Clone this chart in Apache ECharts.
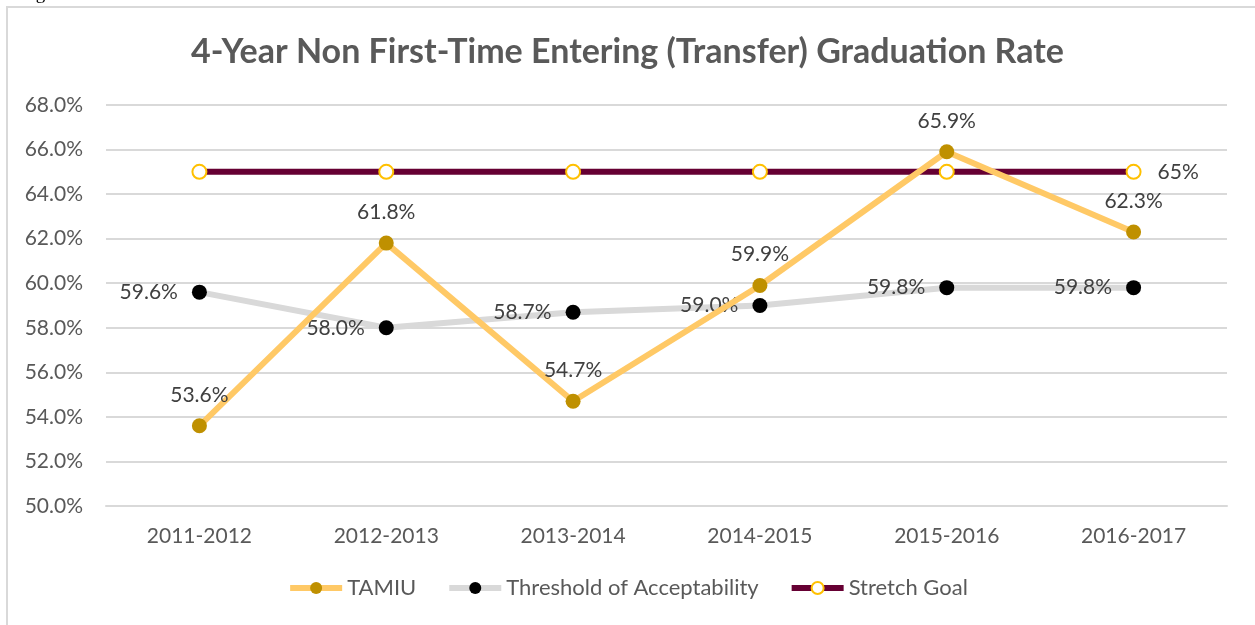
<!DOCTYPE html>
<html>
<head>
<meta charset="utf-8">
<script src="https://cdn.jsdelivr.net/npm/echarts@6/dist/echarts.min.js"></script>
<style>
  html, body { margin: 0; padding: 0; background: #fff; }
  #chart { width: 1255px; height: 625px; }
</style>
</head>
<body>
<div id="chart"></div>
<script>
var years = ['2011-2012', '2012-2013', '2013-2014', '2014-2015', '2015-2016', '2016-2017'];
var tamiu = [53.6, 61.8, 54.7, 59.9, 65.9, 62.3];
var threshold = [59.6, 58.0, 58.7, 59.0, 59.8, 59.8];
var stretchGoal = [65, 65, 65, 65, 65, 65];

var font = 'Lato';
var chart = echarts.init(document.getElementById('chart'));

var option = {
  backgroundColor: '#fff',
  animation: false,
  textStyle: { fontFamily: font },
  graphic: [
    { // frame of the chart area
      type: 'rect',
      shape: { x: 7, y: 7, width: 1262, height: 700 },
      style: { fill: 'none', stroke: '#d9d9d9', lineWidth: 2 },
      silent: true
    },
    { // caption cut off above the frame
      type: 'text',
      left: 20, top: -15,
      style: { text: 'Figure', font: '19px "Liberation Serif"', fill: '#000' }
    }
  ],
  title: {
    text: '4-Year Non First-Time Entering (Transfer) Graduation Rate',
    left: 'center',
    top: 30,
    textStyle: { color: '#595959', fontSize: 34, fontWeight: 'bold', fontFamily: font }
  },
  legend: {
    bottom: 21,
    left: 'center',
    itemWidth: 52,
    itemHeight: 15,
    itemGap: 30,
    lineStyle: { width: 6 },
    textStyle: { color: '#595959', fontSize: 22, fontFamily: font },
    data: ['TAMIU', 'Threshold of Acceptability', 'Stretch Goal']
  },
  grid: { left: 106, right: 28, top: 105, bottom: 119 },
  xAxis: {
    type: 'category',
    data: years,
    axisLine: { lineStyle: { color: '#d9d9d9', width: 2 } },
    axisTick: { show: false },
    axisLabel: { color: '#595959', fontSize: 21, margin: 20, fontFamily: font }
  },
  yAxis: {
    type: 'value',
    min: 50,
    max: 68,
    interval: 2,
    axisLine: { show: false },
    axisTick: { show: false },
    axisLabel: {
      color: '#595959', fontSize: 21, margin: 23, fontFamily: font,
      formatter: function (v) { return v.toFixed(1) + '%'; }
    },
    splitLine: { lineStyle: { color: '#d9d9d9', width: 2 } }
  },
  series: [
    {
      name: 'Stretch Goal',
      type: 'line',
      data: stretchGoal,
      z: 2,
      symbol: 'circle',
      symbolSize: 14,
      lineStyle: { color: '#660033', width: 6 },
      itemStyle: { color: '#fff', borderColor: '#ffc000', borderWidth: 2 },
      label: {
        show: true,
        position: 'right',
        distance: 16,
        color: '#404040',
        fontSize: 21,
        fontFamily: font,
        formatter: function (p) { return p.dataIndex === years.length - 1 ? p.value + '%' : ''; }
      }
    },
    {
      name: 'Threshold of Acceptability',
      type: 'line',
      data: threshold,
      z: 3,
      symbol: 'circle',
      symbolSize: 15,
      lineStyle: { color: '#d9d9d9', width: 6 },
      itemStyle: { color: '#000' },
      label: {
        show: true,
        position: 'left',
        distance: 14,
        color: '#404040',
        fontSize: 21,
        fontFamily: font,
        formatter: function (p) { return p.value.toFixed(1) + '%'; }
      }
    },
    {
      name: 'TAMIU',
      type: 'line',
      data: tamiu,
      z: 4,
      symbol: 'circle',
      symbolSize: 15,
      lineStyle: { color: '#ffc966', width: 6 },
      itemStyle: { color: '#bf9000' },
      label: {
        show: true,
        position: 'top',
        distance: 13,
        color: '#404040',
        fontSize: 21,
        fontFamily: font,
        formatter: function (p) { return p.value.toFixed(1) + '%'; }
      }
    }
  ]
};

chart.setOption(option);
</script>
</body>
</html>
